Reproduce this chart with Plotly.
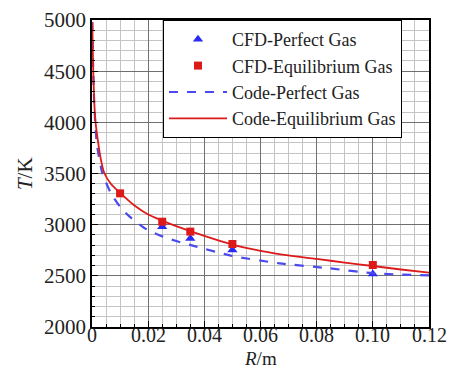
import plotly.graph_objects as go

# CFD results (radius in m, temperature in K)
cfd_r_perfect = [0.025, 0.035, 0.05, 0.10]
cfd_t_perfect = [2980, 2866, 2752, 2518]

cfd_r_equil = [0.01, 0.025, 0.035, 0.05, 0.10]
cfd_t_equil = [3306, 3029, 2932, 2811, 2606]

# Engineering code curves
code_r_perfect = [0.0001, 0.0004, 0.0008, 0.0017, 0.0037, 0.0067, 0.0100, 0.0134,
                  0.0194, 0.0253, 0.0300, 0.0372, 0.0500, 0.0668, 0.0847, 0.1000, 0.1200]
code_t_perfect = [4980, 4550, 4180, 3795, 3502, 3310, 3175, 3078,
                  2955, 2883, 2840, 2785, 2694, 2622, 2573, 2525, 2505]

code_r_equil = [0.0001, 0.0004, 0.0008, 0.0013, 0.0020, 0.0030, 0.0043, 0.0067, 0.0100,
                0.0150, 0.0200, 0.0250, 0.0300, 0.0400, 0.0500, 0.0600, 0.0700, 0.0800,
                0.0900, 0.1000, 0.1100, 0.1200]
code_t_equil = [4980, 4550, 4200, 3990, 3840, 3660, 3510, 3400, 3310,
                3190, 3100, 3040, 2985, 2890, 2805, 2745, 2700, 2665,
                2630, 2596, 2562, 2531]

x_ticks = [0, 0.02, 0.04, 0.06, 0.08, 0.10, 0.12]
x_tick_text = ["0", "0.02", "0.04", "0.06", "0.08", "0.10", "0.12"]
y_ticks = [2000, 2500, 3000, 3500, 4000, 4500, 5000]

FONT = "Liberation Serif"
TXT = "#222"
BLUE = "#2a2af0"
RED = "#dd1a1a"

fig = go.Figure()
fig.add_trace(go.Scatter(
    x=cfd_r_perfect, y=cfd_t_perfect, mode="markers", name="CFD-Perfect Gas",
    marker=dict(symbol="triangle-up", size=9, color=BLUE)))
fig.add_trace(go.Scatter(
    x=cfd_r_equil, y=cfd_t_equil, mode="markers", name="CFD-Equilibrium Gas",
    marker=dict(symbol="square", size=8, color=RED)))
fig.add_trace(go.Scatter(
    x=code_r_perfect, y=code_t_perfect, mode="lines", name="Code-Perfect Gas",
    line=dict(color="#4a4aee", width=2.2, dash="dash", shape="spline", smoothing=0.6)))
fig.add_trace(go.Scatter(
    x=code_r_equil, y=code_t_equil, mode="lines", name="Code-Equilibrium Gas",
    line=dict(color=RED, width=1.8, shape="spline", smoothing=0.6)))

axis_common = dict(
    showline=True, linecolor="black", linewidth=1.5, mirror=True,
    ticks="inside", ticklen=6, tickcolor="black", tickwidth=1.2,
    showgrid=True, gridcolor="#707070", gridwidth=1,
    zeroline=False, automargin=False,
    tickfont=dict(family=FONT, size=21, color=TXT),
)

# x tick labels are placed as annotations so they sit close to the axis
fig.update_xaxes(
    range=[0, 0.12], tickvals=x_ticks, showticklabels=False,
    minor=dict(dtick=0.005, showgrid=True, gridcolor="#c4c4c4", gridwidth=1,
               ticks="inside", ticklen=3, tickcolor="black"),
    **axis_common)
fig.update_yaxes(
    range=[2000, 5000], tickvals=y_ticks,
    minor=dict(dtick=100, showgrid=True, gridcolor="#c4c4c4", gridwidth=1,
               ticks="inside", ticklen=3, tickcolor="black"),
    **axis_common)

for xv, label in zip(x_ticks, x_tick_text):
    fig.add_annotation(text=label, x=xv, xref="x", y=-0.025, yref="paper",
                       xanchor="center", yanchor="middle", showarrow=False,
                       height=18, borderpad=0,
                       font=dict(family=FONT, size=20, color=TXT))

# axis titles
fig.add_annotation(text="<i>R</i>/m", xref="paper", yref="paper", x=0.5, y=-0.102,
                   xanchor="center", yanchor="middle", showarrow=False,
                   height=18, borderpad=0,
                   font=dict(family=FONT, size=19, color=TXT))
fig.add_annotation(text="<i>T</i>/K", xref="paper", yref="paper", x=-0.2, y=0.5,
                   xanchor="center", yanchor="middle", showarrow=False, textangle=-90,
                   font=dict(family=FONT, size=21, color=TXT))

fig.update_layout(
    width=451, height=370,
    margin=dict(l=92, r=22, t=20, b=43),
    paper_bgcolor="white", plot_bgcolor="white",
    showlegend=True,
    legend=dict(
        x=0.2107, y=1.0, xanchor="left", yanchor="top",
        bgcolor="white", bordercolor="black", borderwidth=1,
        font=dict(family=FONT, size=18, color=TXT),
        itemwidth=58, tracegroupgap=0,
    ),
)

fig.write_html("out.html")
